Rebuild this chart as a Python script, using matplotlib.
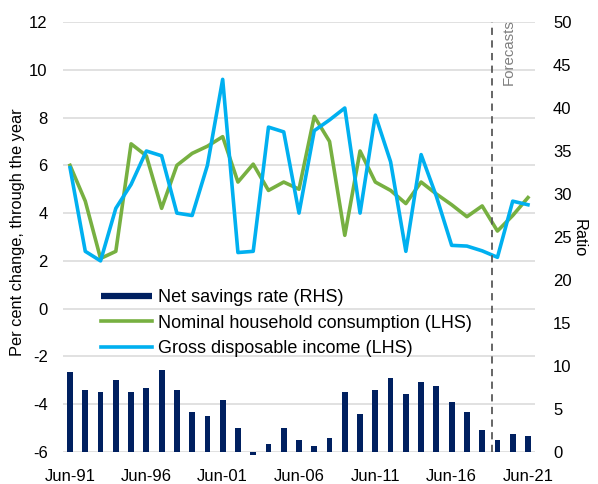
import numpy as np
import matplotlib
matplotlib.use("Agg")
import matplotlib.pyplot as plt
from matplotlib.lines import Line2D

plt.rcParams["font.family"] = ["Liberation Sans", "DejaVu Sans"]
plt.rcParams["font.size"] = 12
plt.rcParams["axes.unicode_minus"] = False

# Veri: yıllık (Haziran) değerler
years = np.arange(1991, 2022)
consumption = [6.0, 4.5, 2.1, 2.4, 6.9, 6.4, 4.2, 6.0, 6.5, 6.8,
               7.2, 5.3, 6.05, 4.95, 5.3, 5.0, 8.05, 7.0, 3.07, 6.6,
               5.3, 4.95, 4.4, 5.3, 4.8, 4.35, 3.85, 4.3, 3.25, 3.9, 4.65]
income = [5.9, 2.4, 2.0, 4.2, 5.2, 6.6, 6.4, 4.0, 3.9, 6.0,
          9.6, 2.35, 2.4, 7.6, 7.4, 4.0, 7.45, 7.9, 8.4, 4.0,
          8.1, 6.15, 2.4, 6.45, 4.7, 2.65, 2.62, 2.42, 2.15, 4.5, 4.35]
savings = [9.3, 7.2, 7.0, 8.4, 7.0, 7.4, 9.5, 7.2, 4.65, 4.2,
           6.0, 2.8, -0.3, 0.93, 2.8, 1.4, 0.7, 1.6, 7.0, 4.4,
           7.2, 8.6, 6.7, 8.1, 7.7, 5.8, 4.65, 2.6, 1.4, 2.1, 1.9]
tick_years = [1991, 1996, 2001, 2006, 2011, 2016, 2021]
tick_labels = ["Jun-91", "Jun-96", "Jun-01", "Jun-06", "Jun-11", "Jun-16", "Jun-21"]
forecast_start = 2018.65

navy = "#002060"
green = "#77B041"
blue = "#00B0F0"

fig = plt.figure(figsize=(5.98, 4.84), dpi=100)
ax = fig.add_axes([63 / 598, 1 - 452 / 484, 472 / 598, 430 / 484])
ax2 = ax.twinx()

# Sol eksen: çizgiler
ax.plot(years, consumption, color=green, lw=2.6, zorder=3)
ax.plot(years, income, color=blue, lw=2.6, zorder=3)
ax.set_ylim(-6, 12)
ax.set_yticks(np.arange(-6, 13, 2))
ax.set_xlim(1990.54, 2021.46)
ax.set_xticks(tick_years)
ax.set_xticklabels(tick_labels)
ax.grid(axis="y", color="#D9D9D9", lw=1.1)
ax.set_axisbelow(True)

# Sağ eksen: çubuklar
ax2.bar(years, savings, width=0.38, color=navy, clip_on=False, zorder=2)
ax2.set_ylim(0, 50)
ax2.set_yticks(np.arange(0, 51, 5))

for a in (ax, ax2):
    for s in a.spines.values():
        s.set_visible(False)
ax.tick_params(axis="both", length=0)
ax.tick_params(axis="y", pad=11)
ax.tick_params(axis="x", pad=12)
ax2.tick_params(axis="y", length=0, pad=13)

# Tahmin çizgisi
ax.axvline(forecast_start, color="#595959", lw=1.3, linestyle=(0, (4, 3)), zorder=4)
ax.text(2019.3, 12.1, "Forecasts", rotation=90, ha="left", va="top",
        color="#7F7F7F", fontsize=10.8)

fig.text(18 / 598, 1 - 232 / 484, "Per cent change, through the year",
         rotation=90, ha="center", va="center", fontsize=11.8)
fig.text(579 / 598, 1 - 238 / 484, "Ratio", rotation=270, ha="center", va="center",
         fontsize=11.8)

handles = [
    Line2D([], [], color=navy, lw=4.5, solid_capstyle="butt"),
    Line2D([], [], color=green, lw=2.6),
    Line2D([], [], color=blue, lw=2.6),
]
labels = ["Net savings rate (RHS)", "Nominal household consumption (LHS)",
          "Gross disposable income (LHS)"]
ax2.legend(handles, labels, loc="upper left", frameon=False, fontsize=13,
           bbox_to_anchor=(101 / 598, 1 - 289 / 484), bbox_transform=fig.transFigure,
           borderpad=0, borderaxespad=0, handlelength=2.8, handletextpad=0.33,
           labelspacing=0.48)

fig.savefig("out.png", dpi=100)
